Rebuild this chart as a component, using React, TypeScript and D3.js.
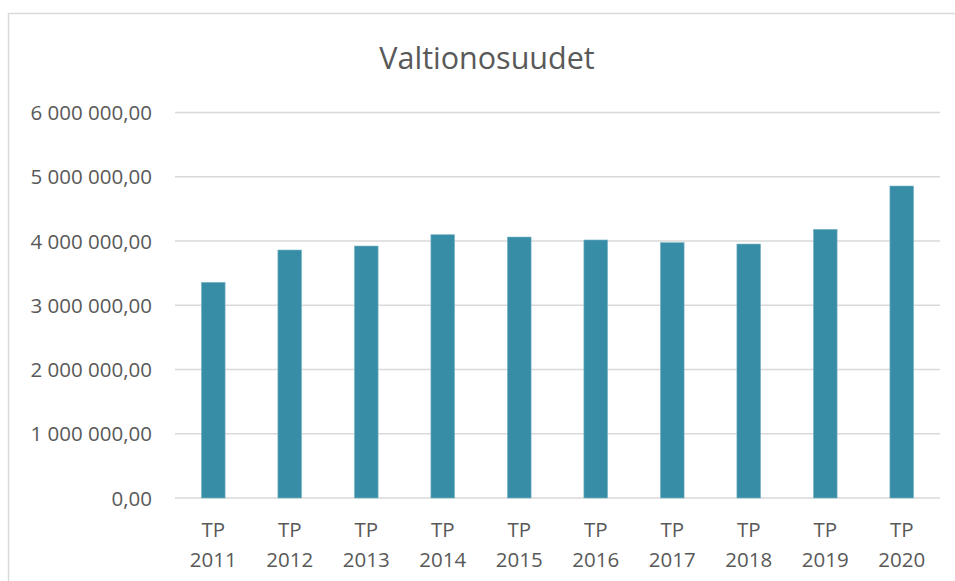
import React from "react";
import * as d3 from "d3";

const categories = ["2011", "2012", "2013", "2014", "2015", "2016", "2017", "2018", "2019", "2020"];
const values = [3357000, 3860000, 3922000, 4098000, 4062000, 4016000, 3975000, 3953000, 4182000, 4856000];
const yTicks = [0, 1000000, 2000000, 3000000, 4000000, 5000000, 6000000];
const title = "Valtionosuudet";

const W = 955;
const H = 581;
const plotLeft = 175;
const plotRight = 940;
const plotTop = 112.5;
const plotBottom = 498;

const fmt = (v: number) => {
  const s = d3.format(",.2f")(v);
  return s.replace(/,/g, " ").replace(".", ",");
};

export default function App() {
  const x = d3.scaleBand<string>().domain(categories).range([plotLeft, plotRight]).paddingInner(0.69).paddingOuter(0.345);
  const y = d3.scaleLinear().domain([0, 6000000]).range([plotBottom, plotTop]);
  const font = "'Open Sans', sans-serif";
  const textColor = "#595959";
  return (
    <div style={{ position: "absolute", left: 0, top: 0 }}>
      <svg width={W} height={H} style={{ display: "block" }}>
        <rect x={0} y={0} width={W} height={H} fill="#ffffff" />
        <rect x={8.5} y={13.5} width={1000} height={1000} fill="none" stroke="#d9d9d9" strokeWidth={1.5} />
        <text x={487} y={69} textAnchor="middle" fontFamily={font} fontSize={30.5} fill={textColor}>
          {title}
        </text>
        {yTicks.map((t) => (
          <g key={t}>
            <line x1={plotLeft} x2={plotRight} y1={y(t)} y2={y(t)} stroke="#d9d9d9" strokeWidth={1.5} />
            <text x={152} y={y(t) + 7.5} textAnchor="end" fontFamily={font} fontSize={20.5} fill={textColor}>
              {fmt(t)}
            </text>
          </g>
        ))}
        {categories.map((c, i) => (
          <rect
            key={c}
            x={x(c)}
            y={y(values[i])}
            width={x.bandwidth()}
            height={plotBottom - y(values[i])}
            fill="#378da6"
            stroke="#7fb8c9"
            strokeWidth={0.6}
          />
        ))}
        {categories.map((c) => {
          const cx = (x(c) as number) + x.bandwidth() / 2;
          return (
            <text key={c} x={cx} textAnchor="middle" fontFamily={font} fontSize={20.5} fill={textColor}>
              <tspan x={cx} y={537}>TP</tspan>
              <tspan x={cx} y={567}>{c}</tspan>
            </text>
          );
        })}
      </svg>
    </div>
  );
}
